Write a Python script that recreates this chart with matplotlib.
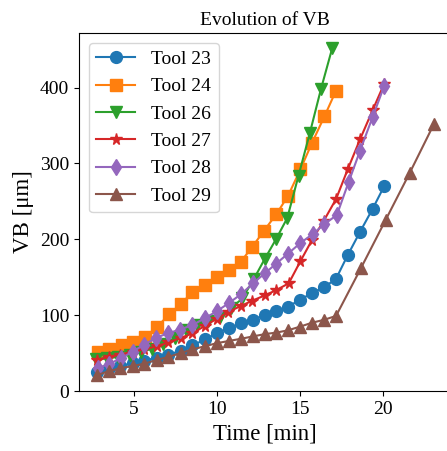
import matplotlib
matplotlib.use("Agg")
import matplotlib.pyplot as plt

plt.rcParams["font.family"] = ["Liberation Serif", "DejaVu Serif"]
plt.rcParams["mathtext.fontset"] = "stix"

# Tool 23
t23 = [2.8, 3.5, 4.2, 4.95, 5.65, 6.4, 7.1, 7.85, 8.55, 9.3, 10.0, 10.75, 11.5,
       12.2, 12.9, 13.6, 14.3, 15.0, 15.75, 16.5, 17.2, 17.9, 18.65, 19.4, 20.1]
vb23 = [25, 30, 33, 37, 40, 44, 48, 53, 60, 68, 76, 83, 89,
        94, 100, 105, 111, 120, 129, 137, 148, 179, 210, 240, 270]

# Tool 24
t24 = [2.83, 3.54, 4.28, 4.98, 5.7, 6.43, 7.15, 7.85, 8.55, 9.3, 10.0, 10.75,
       11.45, 12.15, 12.85, 13.6, 14.3, 15.05, 15.75, 16.5, 17.2]
vb24 = [52, 56, 60, 65, 71, 85, 101, 115, 130, 140, 150, 160,
        170, 190, 211, 233, 257, 292, 327, 362, 396]

# Tool 26
t26 = [2.73, 3.41, 4.09, 4.77, 5.44, 6.12, 6.8, 7.48, 8.16, 8.83, 9.51, 10.19,
       10.87, 11.55, 12.23, 12.9, 13.58, 14.26, 14.94, 15.62, 16.29, 16.97]
vb26 = [42, 43, 45, 48, 51, 56, 62, 70, 80, 87, 92, 98,
        109, 122, 147, 174, 200, 228, 284, 340, 398, 452]

# Tool 27
t27 = [2.8, 3.5, 4.2, 4.95, 5.65, 6.4, 7.1, 7.85, 8.55, 9.3, 10.0, 10.7, 11.45,
       12.15, 12.9, 13.6, 14.35, 15.05, 15.75, 16.45, 17.2, 17.9, 18.65, 19.4, 20.1]
vb27 = [41, 45, 48, 52, 55, 59, 64, 70, 76, 86, 95, 104, 112,
        119, 126, 133, 142, 171, 199, 224, 253, 292, 332, 370, 405]

# Tool 28
t28 = [2.83, 3.54, 4.24, 4.94, 5.64, 6.34, 7.05, 7.8, 8.55, 9.3, 10.0, 10.75, 11.5,
       12.2, 12.9, 13.6, 14.3, 15.05, 15.8, 16.5, 17.25, 17.95, 18.65, 19.4, 20.1]
vb28 = [30, 36, 43, 52, 61, 70, 76, 81, 87, 96, 105, 116, 128,
        142, 155, 168, 181, 195, 207, 220, 232, 275, 317, 361, 402]

# Tool 29
t29 = [2.8, 3.5, 4.2, 4.95, 5.65, 6.4, 7.1, 7.85, 8.55, 9.3, 10.0, 10.75, 11.5,
       12.2, 12.9, 13.6, 14.3, 15.05, 15.75, 16.5, 17.2, 18.7, 20.2, 21.65, 23.1]
vb29 = [21, 26, 30, 33, 36, 41, 45, 50, 55, 59, 63, 66, 69,
        72, 75, 77, 80, 85, 90, 94, 99, 162, 226, 288, 352]

series = [
    ("Tool 23", t23, vb23, "o"),
    ("Tool 24", t24, vb24, "s"),
    ("Tool 26", t26, vb26, "v"),
    ("Tool 27", t27, vb27, "*"),
    ("Tool 28", t28, vb28, "d"),
    ("Tool 29", t29, vb29, "^"),
]

fig = plt.figure(figsize=(4.47, 4.51), dpi=100)
ax = fig.add_axes([0.1767, 0.133, 0.832, 0.794])

for name, t, vb, m in series:
    ax.plot(t, vb, marker=m, markersize=8.5, linewidth=1.5, label=name)

ax.set_ylim(0, 472)
ax.set_title("Evolution of VB", fontsize=14)
ax.set_xlabel("Time [min]", fontsize=16.5)
ax.set_ylabel("VB [μm]", fontsize=16.5)
ax.tick_params(labelsize=14)
ax.legend(loc="upper left", fontsize=14)

fig.savefig("out.png", dpi=100)
